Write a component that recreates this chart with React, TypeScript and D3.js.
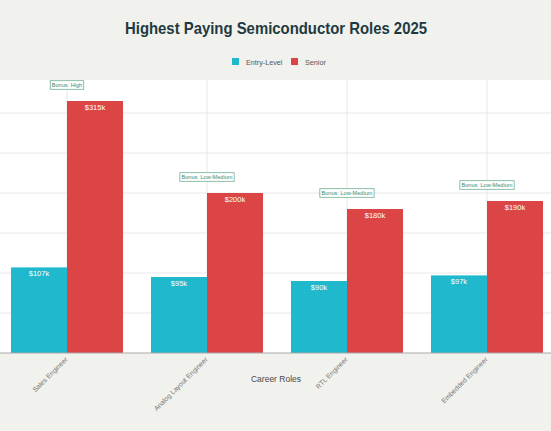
import React, { useEffect, useRef } from "react";
import * as d3 from "d3";

const categories = ["Sales Engineer", "Analog Layout Engineer", "RTL Engineer", "Embedded Engineer"];
const entryLevel = [107, 95, 90, 97];
const senior = [315, 200, 180, 190];
const bonusLabels = ["Bonus: High", "Bonus: Low-Medium", "Bonus: Low-Medium", "Bonus: Low-Medium"];
const yTicks = [0, 50, 100, 150, 200, 250, 300];
const seriesNames = ["Entry-Level", "Senior"];

const W = 551;
const H = 431;
const FONT = "'Liberation Sans', Arial, sans-serif";
const CYAN = "#1fb8cd";
const RED = "#db4545";

export default function App() {
  const ref = useRef<SVGSVGElement>(null);

  useEffect(() => {
    const svg = d3.select(ref.current);
    svg.selectAll("*").remove();

    svg.append("rect").attr("width", W).attr("height", H).attr("fill", "#f1f1ed");

    const top = 80, bottom = 353;
    const x0 = d3.scaleBand<string>().domain(categories).range([-3, 557]).paddingInner(0.2).paddingOuter(0.1);
    const x1 = d3.scaleBand<string>().domain(seriesNames).range([0, x0.bandwidth()]);
    const y = d3.scaleLinear().domain([0, 341.25]).range([bottom, top]);

    svg.append("rect").attr("x", 0).attr("y", top).attr("width", W).attr("height", bottom - top).attr("fill", "#ffffff");

    // grid
    const grid = svg.append("g");
    grid.selectAll("line.h").data(yTicks.slice(1)).join("line")
      .attr("x1", 0).attr("x2", W)
      .attr("y1", d => y(d)).attr("y2", d => y(d))
      .attr("stroke", "#e8e8e8").attr("stroke-width", 1);
    grid.selectAll("line.v").data(categories).join("line")
      .attr("x1", d => x0(d)! + x0.bandwidth() / 2).attr("x2", d => x0(d)! + x0.bandwidth() / 2)
      .attr("y1", top).attr("y2", bottom)
      .attr("stroke", "#e8e8e8").attr("stroke-width", 1);

    const series = [entryLevel, senior];
    const colors = [CYAN, RED];
    series.forEach((vals, si) => {
      const g = svg.append("g");
      g.selectAll("rect").data(vals).join("rect")
        .attr("x", (d, i) => x0(categories[i])! + x1(seriesNames[si])!)
        .attr("y", d => y(d))
        .attr("width", x1.bandwidth())
        .attr("height", d => bottom - y(d))
        .attr("fill", colors[si]);
      g.selectAll("text").data(vals).join("text")
        .attr("x", (d, i) => x0(categories[i])! + x1(seriesNames[si])! + x1.bandwidth() / 2)
        .attr("y", d => y(d) + 9)
        .attr("text-anchor", "middle")
        .attr("font-family", FONT)
        .attr("font-size", 7.5)
        .attr("fill", "#ffffff")
        .text(d => `$${d}k`);
    });

    // bonus annotations
    bonusLabels.forEach((lab, i) => {
      const cx = x0(categories[i])! + x0.bandwidth() / 2;
      const cy = y(senior[i]) - 16;
      const g = svg.append("g");
      const t = g.append("text")
        .attr("x", cx).attr("y", cy + 2)
        .attr("text-anchor", "middle")
        .attr("font-family", FONT)
        .attr("font-size", 5.6)
        .attr("fill", "#3d8a68")
        .text(lab);
      const bb = (t.node() as SVGTextElement).getBBox();
      g.insert("rect", "text")
        .attr("x", cx - bb.width / 2 - 1.5)
        .attr("y", cy - 4.3)
        .attr("width", bb.width + 3)
        .attr("height", 8.6)
        .attr("fill", "#ffffff")
        .attr("stroke", "#6fb08f")
        .attr("stroke-width", 0.8);
    });

    // axis line
    svg.append("line").attr("x1", 0).attr("x2", W).attr("y1", bottom).attr("y2", bottom)
      .attr("stroke", "#aaaaaa").attr("stroke-width", 1.2);

    // x labels
    categories.forEach((c) => {
      const cx = x0(c)! + x0.bandwidth() / 2;
      svg.append("text")
        .attr("transform", `translate(${cx + 1},${360}) rotate(-45)`)
        .attr("text-anchor", "end")
        .attr("font-family", FONT)
        .attr("font-size", 6.8)
        .attr("fill", "#777777")
        .text(c);
    });

    svg.append("text")
      .attr("x", 276).attr("y", 382)
      .attr("text-anchor", "middle")
      .attr("font-family", FONT)
      .attr("font-size", 8.5)
      .attr("fill", "#4a4a4a")
      .text("Career Roles");

    // title
    svg.append("text")
      .attr("x", 276).attr("y", 34)
      .attr("text-anchor", "middle")
      .attr("font-family", FONT)
      .attr("font-weight", "bold")
      .attr("font-size", 16.5)
      .attr("textLength", 302)
      .attr("lengthAdjust", "spacingAndGlyphs")
      .attr("fill", "#1e3a3f")
      .text("Highest Paying Semiconductor Roles 2025");

    // legend
    const legendItems = [
      { name: seriesNames[0], color: CYAN, x: 232 },
      { name: seriesNames[1], color: RED, x: 291 },
    ];
    legendItems.forEach(it => {
      svg.append("rect").attr("x", it.x).attr("y", 58).attr("width", 7).attr("height", 7).attr("fill", it.color);
      svg.append("text").attr("x", it.x + 14).attr("y", 64.5)
        .attr("font-family", FONT).attr("font-size", 7.2).attr("fill", "#555555")
        .text(it.name);
    });
  }, []);

  return (
    <svg ref={ref} width={W} height={H}
      style={{ position: "absolute", left: 0, top: 0, display: "block" }} />
  );
}
